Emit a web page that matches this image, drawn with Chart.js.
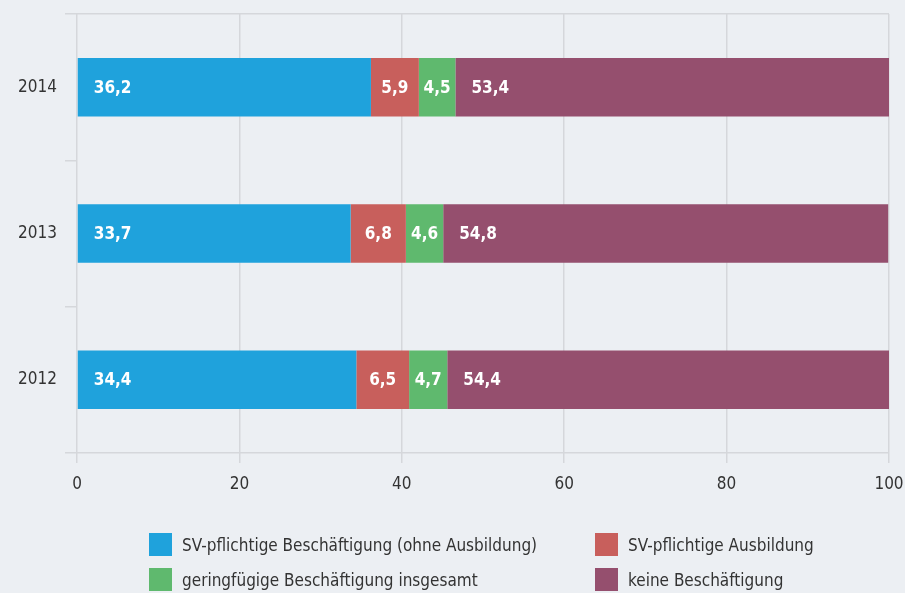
<!DOCTYPE html>
<html>
<head>
<meta charset="utf-8">
<script src="https://cdn.jsdelivr.net/npm/chart.js@4"></script>
<style>
  body { margin: 0; background: #eceff3; }
  #wrap { position: relative; width: 905px; height: 593px; }
  #legend { position: absolute; left: 149px; top: 533px; font-family: "Liberation Sans Narrow", "DejaVu Sans Condensed", Roboto, sans-serif; font-size: 17px; color: #333; }
  .item { position: absolute; white-space: nowrap; display: flex; align-items: center; }
  .box { width: 23px; height: 23px; margin-right: 10px; }
</style>
</head>
<body>
<div id="wrap">
  <canvas id="chart" width="905" height="593"></canvas>
  <div id="legend"></div>
</div>
<script>
// Data
const years = ['2014', '2013', '2012'];
const seriesNames = ['SV-pflichtige Beschäftigung (ohne Ausbildung)', 'SV-pflichtige Ausbildung', 'geringfügige Beschäftigung insgesamt', 'keine Beschäftigung'];
const svBeschaeftigung = [36.2, 33.7, 34.4];
const svAusbildung = [5.9, 6.8, 6.5];
const geringfuegig = [4.5, 4.6, 4.7];
const keine = [53.4, 54.8, 54.4];
const xTicks = [0, 20, 40, 60, 80, 100];

const colors = ['#1fa2dc', '#c85f5c', '#5fb96e', '#954f6e'];
const lineColor = '#d5d7db';
const fontFamily = '"Liberation Sans Narrow", "DejaVu Sans Condensed", Roboto, sans-serif';

// Labels inside the segments
const barLabels = {
    id: 'barLabels',
    afterDatasetsDraw(chart) {
        const ctx = chart.ctx;
        ctx.save();
        ctx.font = 'bold 17px ' + fontFamily;
        ctx.fillStyle = '#fff';
        ctx.textBaseline = 'middle';
        ctx.textAlign = 'left';
        chart.data.datasets.forEach((ds, di) => {
            const meta = chart.getDatasetMeta(di);
            meta.data.forEach((bar, i) => {
                const text = ds.data[i].toFixed(1).replace('.', ',');
                const left = Math.min(bar.x, bar.base);
                const w = Math.abs(bar.x - bar.base);
                const tw = ctx.measureText(text).width;
                const pad = Math.min(16, (w - tw) / 2);
                ctx.fillText(text, left + pad, bar.y + 1);
            });
        });
        ctx.restore();
    }
};

const dataSets = [svBeschaeftigung, svAusbildung, geringfuegig, keine];

new Chart(document.getElementById('chart'), {
    type: 'bar',
    data: {
        labels: years,
        datasets: dataSets.map((d, i) => ({
            label: seriesNames[i],
            data: d,
            backgroundColor: colors[i],
            borderWidth: 0,
            barPercentage: 0.4,
            categoryPercentage: 1
        }))
    },
    options: {
        indexAxis: 'y',
        responsive: false,
        animation: false,
        layout: { padding: { top: 14, right: 16, bottom: 90, left: 0 } },
        plugins: {
            legend: { display: false },
            tooltip: { enabled: false }
        },
        scales: {
            x: {
                stacked: true,
                min: 0,
                max: 100,
                afterBuildTicks: axis => { axis.ticks = xTicks.map(v => ({ value: v })); },
                afterFit: axis => {
                    axis.height = 50;
                    axis.paddingLeft = 0;
                    axis.paddingRight = 0;
                },
                border: { display: false },
                grid: { color: lineColor, lineWidth: 1.5, tickLength: 10, tickColor: lineColor },
                ticks: { color: '#333', padding: 11, maxRotation: 0, font: { family: fontFamily, size: 17 } }
            },
            y: {
                stacked: true,
                afterFit: axis => {
                    axis.width = 77;
                    axis.paddingTop = 0;
                    axis.paddingBottom = 0;
                },
                border: { display: false },
                grid: {
                    offset: true,
                    lineWidth: 1.5,
                    tickLength: 12,
                    color: ctx => (ctx.type === 'scale' || ctx.index === 0) ? lineColor : 'rgba(0,0,0,0)',
                    tickColor: lineColor
                },
                ticks: { color: '#333', padding: 8, font: { family: fontFamily, size: 17 } }
            }
        }
    },
    plugins: [barLabels]
});

// Legend in two columns
const legend = document.getElementById('legend');
const positions = [[0, 0], [446, 0], [0, 35], [446, 35]];
seriesNames.forEach((name, i) => {
    const item = document.createElement('div');
    item.className = 'item';
    item.style.left = positions[i][0] + 'px';
    item.style.top = positions[i][1] + 'px';
    item.innerHTML = '<span class="box" style="background:' + colors[i] + '"></span><span></span>';
    item.lastChild.textContent = name;
    legend.appendChild(item);
});
</script>
</body>
</html>
